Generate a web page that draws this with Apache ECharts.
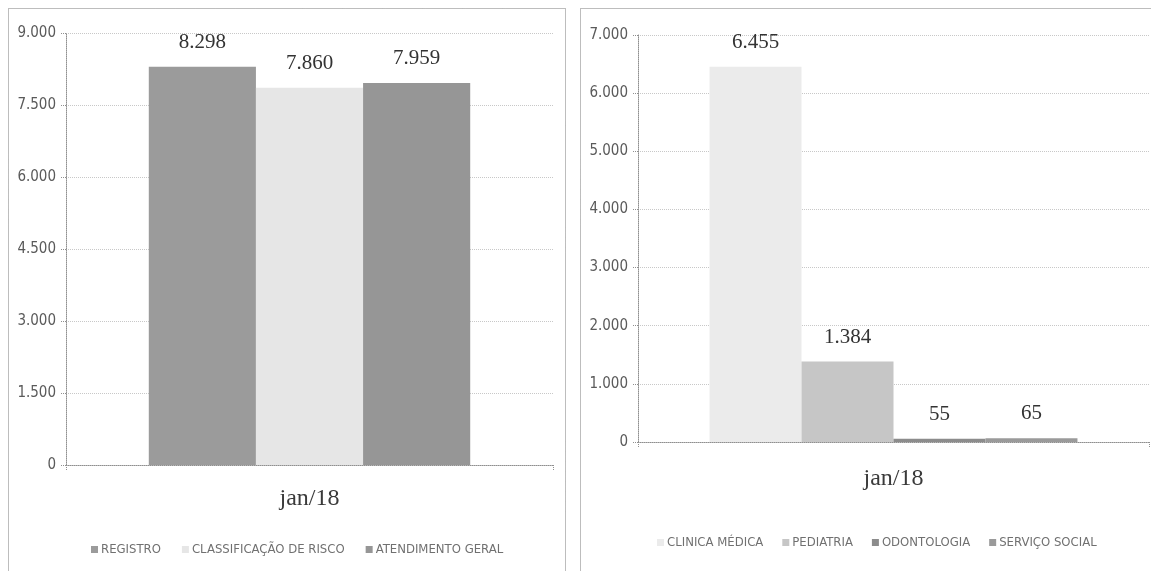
<!DOCTYPE html>
<html>
<head>
<meta charset="utf-8">
<script src="https://cdn.jsdelivr.net/npm/echarts@6/dist/echarts.min.js"></script>
<style>
  html, body { margin: 0; padding: 0; background: #fff; }
  #chart { width: 1151px; height: 571px; }
</style>
</head>
<body>
<div id="chart"></div>
<script>
// Monthly attendance totals, January 2018
const categories = ['jan/18'];

// Left panel: patient flow
const flowNames = ['REGISTRO', 'CLASSIFICAÇÃO DE RISCO', 'ATENDIMENTO GERAL'];
const flowValues = [8298, 7860, 7959];
const flowColors = ['#9b9b9b', '#e6e6e6', '#969696'];
const flowTicks = { min: 0, max: 9000, interval: 1500 };

// Right panel: specialties
const specNames = ['CLINICA MÉDICA', 'PEDIATRIA', 'ODONTOLOGIA', 'SERVIÇO SOCIAL'];
const specValues = [6455, 1384, 55, 65];
const specColors = ['#ebebeb', '#c6c6c6', '#8c8c8c', '#9a9a9a'];
const specTicks = { min: 0, max: 7000, interval: 1000 };

const narrow = "'Liberation Sans Narrow', 'DejaVu Sans Condensed', 'Liberation Sans', sans-serif";
const serif = "'Liberation Serif', 'DejaVu Serif', serif";

// Thousands separator in pt-BR style: 8298 -> 8.298
function fmt(v) {
  return String(v).replace(/\B(?=(\d{3})+(?!\d))/g, '.');
}

const dotted = { type: 'dotted', color: '#8f8f8f', width: 1 };

function xAxisFor(gridIndex, margin) {
  return {
    type: 'category',
    gridIndex: gridIndex,
    data: categories,
    axisLine: { show: true, lineStyle: dotted },
    axisTick: { show: true, length: 5, lineStyle: dotted },
    axisLabel: { margin: margin, fontFamily: serif, fontSize: 24, color: '#3a3a3a' }
  };
}

function yAxisFor(gridIndex, ticks) {
  return {
    type: 'value',
    gridIndex: gridIndex,
    min: ticks.min,
    max: ticks.max,
    interval: ticks.interval,
    axisLine: { show: true, lineStyle: dotted },
    axisTick: { show: true, length: 5, lineStyle: dotted },
    splitLine: { show: true, lineStyle: { type: 'dotted', color: '#c8c8c8', width: 1 } },
    axisLabel: { margin: 10, fontFamily: narrow, fontSize: 15, color: '#5a5a5a', formatter: fmt }
  };
}

function barSeries(names, values, colors, axisIndex, width) {
  return names.map((name, i) => ({
    name: name,
    type: 'bar',
    xAxisIndex: axisIndex,
    yAxisIndex: axisIndex,
    data: [values[i]],
    barWidth: width,
    barGap: '0%',
    itemStyle: { color: colors[i] },
    label: {
      show: true,
      position: 'top',
      distance: 14,
      fontFamily: serif,
      fontSize: 21,
      color: '#333',
      formatter: p => fmt(p.value)
    }
  }));
}

const chart = echarts.init(document.getElementById('chart'), null, { renderer: 'canvas' });

chart.setOption({
  animation: false,
  backgroundColor: '#ffffff',
  graphic: [
    { type: 'rect', shape: { x: 8.5, y: 8.5, width: 557, height: 580 },
      style: { fill: 'none', stroke: '#7a7a7a', lineWidth: 1, lineDash: [1, 1] }, silent: true },
    { type: 'rect', shape: { x: 580.5, y: 8.5, width: 600, height: 580 },
      style: { fill: 'none', stroke: '#7a7a7a', lineWidth: 1, lineDash: [1, 1] }, silent: true }
  ],
  grid: [
    { left: 66, right: 598, top: 33, bottom: 106 },
    { left: 638, right: 2, top: 35, bottom: 129 }
  ],
  legend: [
    {
      data: flowNames,
      left: 86, top: 538,
      itemWidth: 7, itemHeight: 7, itemGap: 21,
      icon: 'rect',
      textStyle: { fontFamily: narrow, fontSize: 13, color: '#707070', padding: [0, 0, 0, -2] }
    },
    {
      data: specNames,
      left: 652, top: 531,
      itemWidth: 7, itemHeight: 7, itemGap: 19,
      icon: 'rect',
      textStyle: { fontFamily: narrow, fontSize: 13, color: '#707070', padding: [0, 0, 0, -2] }
    }
  ],
  xAxis: [xAxisFor(0, 22), xAxisFor(1, 25)],
  yAxis: [yAxisFor(0, flowTicks), yAxisFor(1, specTicks)],
  series: [
    ...barSeries(flowNames, flowValues, flowColors, 0, '22%'),
    ...barSeries(specNames, specValues, specColors, 1, '18%')
  ]
});
</script>
</body>
</html>
